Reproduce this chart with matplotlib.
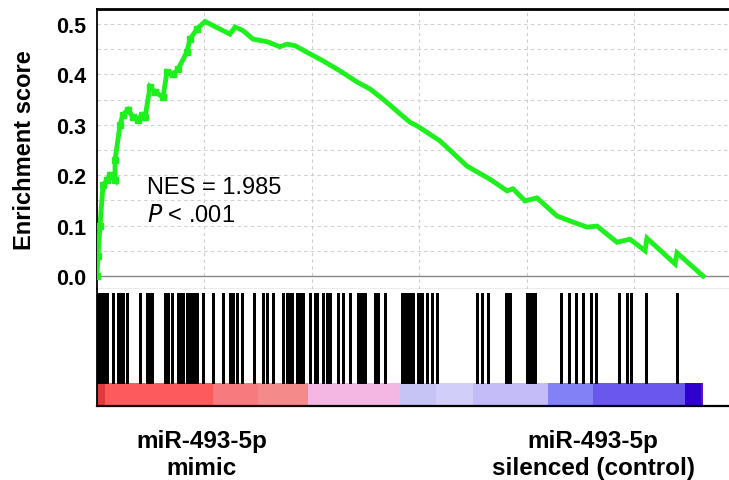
import matplotlib
matplotlib.use("Agg")
import matplotlib.pyplot as plt
import numpy as np

plt.rcParams['font.family'] = ['Liberation Sans', 'DejaVu Sans']

# ---- data ----
curve_rank = [0, 9, 28, 56, 93, 121, 167, 168, 214, 242, 288, 335, 381, 419, 447, 493,
              540, 614, 651, 707, 753, 837, 865, 930, 1005, 1079, 1172, 1237, 1284, 1358,
              1451, 1581, 1702, 1767, 1842, 1953, 2102, 2260, 2419, 2540, 2660, 2791, 2912,
              2977, 3191, 3442, 3656, 3814, 3870, 3981, 4093, 4279, 4428, 4558, 4651, 4837,
              4958, 5098, 5116, 5377, 5395, 5637]
curve_es = [0.0, 0.04, 0.10, 0.18, 0.19, 0.20, 0.19, 0.23, 0.30, 0.32, 0.33, 0.315, 0.31,
            0.32, 0.315, 0.375, 0.365, 0.355, 0.405, 0.40, 0.41, 0.445, 0.47, 0.49, 0.505,
            0.497, 0.487, 0.48, 0.494, 0.487, 0.47, 0.465, 0.455, 0.46, 0.457, 0.444, 0.427,
            0.407, 0.385, 0.371, 0.351, 0.327, 0.305, 0.298, 0.268, 0.218, 0.192, 0.169,
            0.173, 0.149, 0.155, 0.119, 0.107, 0.097, 0.099, 0.067, 0.073, 0.05, 0.075,
            0.024, 0.046, 0.0]

hit_ranks = [0, 9, 19, 28, 37, 47, 56, 65, 74, 93, 149, 195, 223, 242, 279, 400, 465, 484,
             502, 512, 632, 651, 660, 698, 753, 772, 791, 800, 837, 856, 884, 902, 930, 986,
             1079, 1172, 1237, 1256, 1265, 1302, 1349, 1460, 1544, 1581, 1637, 1730, 1767,
             1786, 1795, 1814, 1860, 1888, 1916, 1981, 2027, 2046, 2102, 2139, 2167, 2241,
             2288, 2353, 2427, 2446, 2465, 2483, 2492, 2585, 2604, 2614, 2678, 2837, 2855,
             2874, 2883, 2902, 2911, 2930, 2939, 2985, 3004, 3023, 3069, 3116, 3162, 3534,
             3581, 3637, 3804, 3823, 3841, 3999, 4027, 4055, 4073, 4315, 4390, 4455, 4520,
             4594, 4641, 4855, 4929, 4966, 5106, 5394]

bar_edges = [0, 74, 1079, 1500, 1962, 2818, 3150, 3500, 4193, 4611, 5470, 5620, 5637]
bar_colors = ['#e03a3a', '#fc5a5c', '#f77a7e', '#f48a8a', '#f4b6e2', '#c6c4f4', '#d2cefa',
              '#c4bcf8', '#8282f6', '#6a58ee', '#3000d0', '#6010c0']

y_ticks = [0.0, 0.1, 0.2, 0.3, 0.4, 0.5]
n_total = 6000

# ---- figure ----
fig = plt.figure(figsize=(7.29, 4.81), dpi=100)
W, H = 729, 481
left = 97 / W
width = 645 / W
ax = fig.add_axes([left, 1 - 290 / H, width, 280 / H])
axb = fig.add_axes([left, 1 - 407 / H, width, 117 / H])

grid_kw = dict(color='#cfcfcf', lw=0.8, ls=(0, (3, 3)))
for y in np.arange(0.05, 0.55, 0.05):
    ax.axhline(y, zorder=0, **grid_kw)
for x in range(1000, n_total, 1000):
    ax.axvline(x, zorder=0, **grid_kw)
ax.axhline(0, color='#888888', lw=1.0, zorder=1)

green = '#1ef01e'
ax.plot(curve_rank, curve_es, color=green, lw=3.5, solid_joinstyle='miter', zorder=3)
early = [i for i, r in enumerate(curve_rank) if r < 1000]
ax.plot([curve_rank[i] for i in early], [curve_es[i] for i in early], ls='none',
        marker='s', ms=4, color=green, zorder=4)

ax.set_xlim(0, n_total)
ax.set_ylim(-0.0258, 0.5298)
ax.set_xticks([])
ax.set_yticks(y_ticks)
ax.set_yticklabels([f'{v:.1f}' for v in y_ticks], fontsize=15.5, fontweight='bold')
ax.tick_params(axis='y', length=0, pad=8)
ax.set_ylabel('Enrichment score', fontsize=17, fontweight='bold', labelpad=14)
ax.spines['right'].set_visible(False)
ax.spines['top'].set_linewidth(2.0)
ax.spines['left'].set_linewidth(1.3)
ax.spines['bottom'].set_color('#999999')
ax.spines['bottom'].set_linewidth(1.0)

ax.text(465, 0.177, 'NES = 1.985', fontsize=17, va='center', ha='left')
ax.text(465, 0.121, r'$\it{P}$ < .001', fontsize=17, va='center', ha='left')

# ---- hits + ranked list bar ----
axb.set_xlim(0, n_total)
axb.set_ylim(0, 1)
axb.vlines(hit_ranks, 0.197, 0.966, color='black', lw=1.0, antialiased=False)
for i, c in enumerate(bar_colors):
    axb.axvspan(bar_edges[i], bar_edges[i + 1], ymin=0.01, ymax=0.197, color=c, lw=0)
axb.set_xticks([])
axb.set_yticks([])
axb.spines['top'].set_visible(False)
axb.spines['right'].set_visible(False)
axb.spines['left'].set_linewidth(1.3)
axb.spines['bottom'].set_linewidth(1.6)

fig.text(202 / W, 1 - 455 / H, 'miR-493-5p\nmimic', ha='center', va='center',
         fontsize=17.5, fontweight='bold', linespacing=1.25)
fig.text(593 / W, 1 - 455 / H, 'miR-493-5p\nsilenced (control)', ha='center', va='center',
         fontsize=17.5, fontweight='bold', linespacing=1.25)

fig.savefig('out.png', dpi=100)
